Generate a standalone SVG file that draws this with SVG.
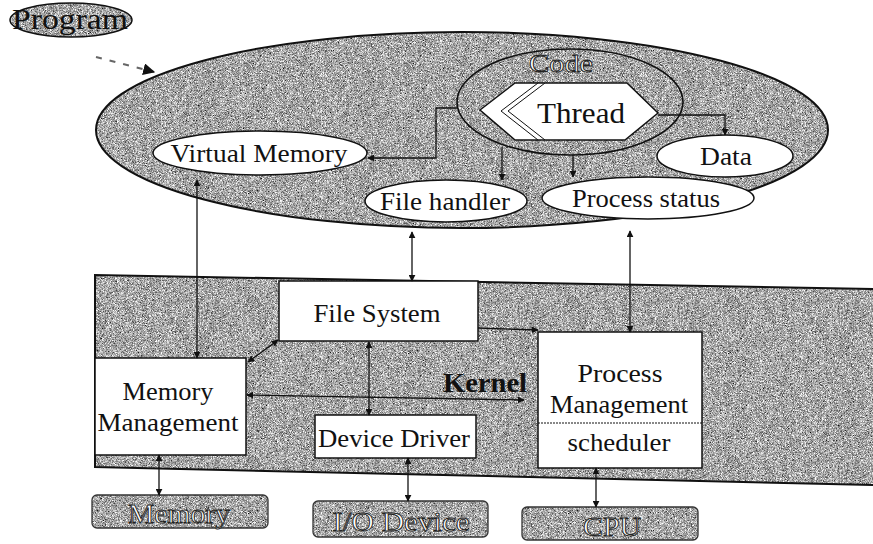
<svg xmlns="http://www.w3.org/2000/svg" width="873" height="544" viewBox="0 0 873 544" font-family="Liberation Serif, Times New Roman, DejaVu Serif, serif">
<style>
text{font-family:"Liberation Serif","Times New Roman","DejaVu Serif",serif}
.t{fill:#111;text-anchor:middle}
.w{fill:#fff;stroke:#222;stroke-width:0.9;text-anchor:middle}
.ln{stroke:#111;stroke-width:1.3;fill:none}
.ol{stroke:#111;stroke-width:2;fill:none}
.wb{fill:#fff;stroke:#111;stroke-width:1.5}
</style>
<defs>
<filter id="grain" x="0" y="0" width="1" height="1" color-interpolation-filters="sRGB">
<feTurbulence type="fractalNoise" baseFrequency="1.6" numOctaves="2" seed="7" result="n"/>
<feColorMatrix in="n" type="matrix" values="0.8 0.8 0.8 0 -0.55  0.8 0.8 0.8 0 -0.55  0.8 0.8 0.8 0 -0.55  0 0 0 0 1" result="g"/>
<feComposite in="g" in2="SourceGraphic" operator="in"/>
</filter>
<marker id="arr" viewBox="0 0 10 10" refX="9" refY="5" markerWidth="7" markerHeight="7" markerUnits="userSpaceOnUse" orient="auto-start-reverse">
<path d="M0,0 L10,5 L0,10 z" fill="#111"/>
</marker>
<marker id="arrB" viewBox="0 0 10 10" refX="9" refY="5" markerWidth="12" markerHeight="12" markerUnits="userSpaceOnUse" orient="auto">
<path d="M0,0 L10,5 L0,10 z" fill="#111"/>
</marker>
</defs>
<rect width="873" height="544" fill="#fff"/>

<!-- Process (big ellipse) -->
<g id="process">
<ellipse cx="462" cy="130" rx="366" ry="98" fill="#999" filter="url(#grain)"/>
<ellipse cx="462" cy="130" rx="366" ry="98" class="ol"/>
</g>

<g id="program">
<ellipse cx="71" cy="20" rx="61" ry="17" fill="#999" filter="url(#grain)"/>
<ellipse cx="71" cy="20" rx="61" ry="17" fill="none" stroke="#111" stroke-width="1.5"/>
<text x="70" y="29" class="t" font-size="29" textLength="116" lengthAdjust="spacingAndGlyphs">Program</text>
</g>

<g id="code">
<ellipse cx="570" cy="102" rx="113" ry="53" fill="none" stroke="#111" stroke-width="1.6"/>
<text x="561" y="72" class="w" font-size="26" textLength="64" lengthAdjust="spacingAndGlyphs">Code</text>
</g>

<g id="thread">
<polygon points="480,110 515,83 627,83 658,113 625,140 515,140" class="wb"/>
<polyline points="538,83 501,111 538,140" fill="none" stroke="#111" stroke-width="1"/>
<polyline points="545,83 508,111 545,140" fill="none" stroke="#111" stroke-width="1"/>
<text x="581" y="123" class="t" font-size="30" textLength="88" lengthAdjust="spacingAndGlyphs">Thread</text>
</g>

<g id="virtual-memory">
<ellipse cx="260" cy="153" rx="107" ry="22" class="wb"/>
<text x="259" y="162" class="t" font-size="26" textLength="177" lengthAdjust="spacingAndGlyphs">Virtual Memory</text>
</g>

<g id="file-handler">
<ellipse cx="446" cy="201" rx="81" ry="21" class="wb"/>
<text x="445" y="210" class="t" font-size="25" textLength="130" lengthAdjust="spacingAndGlyphs">File handler</text>
</g>

<g id="process-status">
<ellipse cx="648" cy="198" rx="106" ry="21" class="wb"/>
<text x="646" y="207" class="t" font-size="25" textLength="148" lengthAdjust="spacingAndGlyphs">Process status</text>
</g>

<g id="data">
<ellipse cx="725" cy="156" rx="68" ry="21" class="wb"/>
<text x="726" y="165" class="t" font-size="26" textLength="52" lengthAdjust="spacingAndGlyphs">Data</text>
</g>

<!-- Kernel -->
<g id="kernel">
<polygon points="95,275 873,289 873,485 95,467" fill="#999" filter="url(#grain)"/>
<polyline points="873,289 95,275 95,467 873,485" class="ol"/>
<text x="485" y="392" class="t" font-size="28" font-weight="bold" textLength="84" lengthAdjust="spacingAndGlyphs">Kernel</text>
</g>

<g id="file-system">
<rect x="279" y="281" width="199" height="60" class="wb"/>
<text x="377" y="322" class="t" font-size="25" textLength="127" lengthAdjust="spacingAndGlyphs">File System</text>
</g>

<g id="memory-management">
<rect x="95" y="358" width="151" height="97" class="wb"/>
<text x="168" y="400" class="t" font-size="25" textLength="91" lengthAdjust="spacingAndGlyphs">Memory</text>
<text x="168" y="431" class="t" font-size="25" textLength="141" lengthAdjust="spacingAndGlyphs">Management</text>
</g>

<g id="device-driver">
<rect x="315" y="415" width="161" height="43" class="wb"/>
<text x="394" y="447" class="t" font-size="25" textLength="152" lengthAdjust="spacingAndGlyphs">Device Driver</text>
</g>

<g id="process-management">
<rect x="538" y="332" width="164" height="136" class="wb"/>
<line x1="538" y1="423" x2="702" y2="423" stroke="#111" stroke-width="1" stroke-dasharray="2,1"/>
<text x="620" y="382" class="t" font-size="25" textLength="85" lengthAdjust="spacingAndGlyphs">Process</text>
<text x="619" y="413" class="t" font-size="25" textLength="138" lengthAdjust="spacingAndGlyphs">Management</text>
<text x="619" y="451" class="t" font-size="25" textLength="103" lengthAdjust="spacingAndGlyphs">scheduler</text>
</g>

<!-- Hardware -->
<g id="memory">
<rect x="92" y="495" width="176" height="33" rx="5" fill="#999" filter="url(#grain)"/>
<rect x="92" y="495" width="176" height="33" rx="5" fill="none" stroke="#333" stroke-width="1.3"/>
<text x="179" y="523" class="w" font-size="28" textLength="102" lengthAdjust="spacingAndGlyphs">Memory</text>
</g>

<g id="io-device">
<rect x="313" y="501" width="175" height="36" rx="5" fill="#999" filter="url(#grain)"/>
<rect x="313" y="501" width="175" height="36" rx="5" fill="none" stroke="#333" stroke-width="1.3"/>
<text x="401" y="531" class="w" font-size="28" textLength="137" lengthAdjust="spacingAndGlyphs">I/O Device</text>
</g>

<g id="cpu">
<rect x="522" y="507" width="176" height="33" rx="5" fill="#999" filter="url(#grain)"/>
<rect x="522" y="507" width="176" height="33" rx="5" fill="none" stroke="#333" stroke-width="1.3"/>
<text x="612" y="536" class="w" font-size="28" textLength="58" lengthAdjust="spacingAndGlyphs">CPU</text>
</g>

<!-- Connectors -->
<g id="connectors">
<line x1="96" y1="57" x2="154" y2="72" stroke="#666" stroke-width="2" stroke-dasharray="6,8" marker-end="url(#arrB)"/>
<path d="M457,108 H436 V158 H368" class="ln" marker-end="url(#arr)"/>
<line x1="502" y1="147" x2="502" y2="180" class="ln" marker-end="url(#arr)"/>
<line x1="573" y1="155" x2="573" y2="177" class="ln" marker-end="url(#arr)"/>
<path d="M658,115 H725 V135" class="ln" marker-end="url(#arr)"/>
<line x1="197" y1="180" x2="197" y2="358" class="ln" marker-start="url(#arr)" marker-end="url(#arr)"/>
<line x1="412" y1="232" x2="412" y2="281" class="ln" marker-start="url(#arr)" marker-end="url(#arr)"/>
<line x1="630" y1="231" x2="630" y2="332" class="ln" marker-start="url(#arr)" marker-end="url(#arr)"/>
<line x1="248" y1="362" x2="278" y2="340" class="ln" marker-start="url(#arr)" marker-end="url(#arr)"/>
<line x1="478" y1="328" x2="538" y2="330" class="ln" marker-end="url(#arr)"/>
<line x1="369" y1="342" x2="369" y2="415" class="ln" marker-start="url(#arr)" marker-end="url(#arr)"/>
<line x1="247" y1="395" x2="524" y2="400" class="ln" stroke-width="1.8" marker-start="url(#arr)" marker-end="url(#arr)"/>
<line x1="159" y1="455" x2="159" y2="495" class="ln" marker-start="url(#arr)" marker-end="url(#arr)"/>
<line x1="408" y1="458" x2="408" y2="501" class="ln" marker-start="url(#arr)" marker-end="url(#arr)"/>
<line x1="596" y1="468" x2="596" y2="507" class="ln" marker-start="url(#arr)" marker-end="url(#arr)"/>
</g>
</svg>
